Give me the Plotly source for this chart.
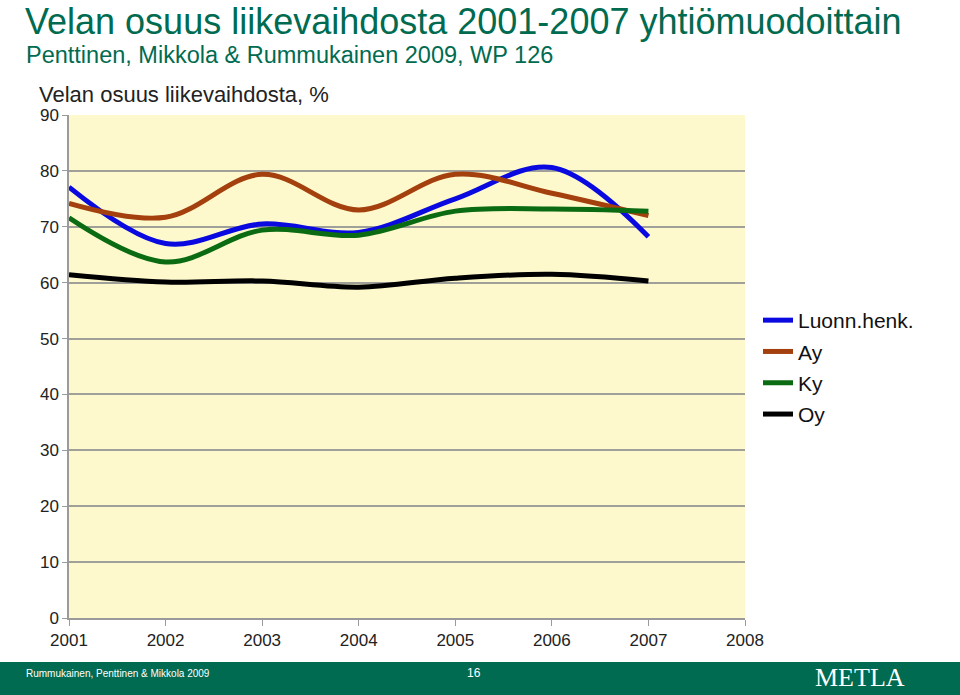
import plotly.graph_objects as go

years = [2001, 2002, 2003, 2004, 2005, 2006, 2007]
luonn = [77.1, 67.0, 70.5, 69.0, 75.0, 80.6, 68.2]
ay = [74.2, 71.7, 79.4, 73.0, 79.4, 76.0, 72.0]
ky = [71.6, 63.7, 69.4, 68.5, 72.8, 73.2, 72.8]
oy = [61.4, 60.1, 60.3, 59.2, 60.8, 61.5, 60.3]
series_names = ["Luonn.henk.", "Ay", "Ky", "Oy"]
colors = ["#0a0ae0", "#a3400e", "#0b6b12", "#000000"]
x_ticks = [2001, 2002, 2003, 2004, 2005, 2006, 2007, 2008]
y_ticks = [0, 10, 20, 30, 40, 50, 60, 70, 80, 90]

W, H = 960, 695
# plot area in screen pixels
L, R, T, B = 69, 745, 115, 618

def px(x):
    return (x - L) / (R - L)

def py(y):
    return (B - y) / (B - T)

fig = go.Figure()
for i, (name, vals, c) in enumerate(zip(series_names, [luonn, ay, ky, oy], colors)):
    fig.add_trace(go.Scatter(x=years, y=vals, name=name, mode="lines", legendgroup=f"g{i}",
                             line=dict(color=c, width=5, shape="spline", smoothing=1.0)))

green = "#006b50"
fig.update_layout(
    width=W, height=H,
    margin=dict(l=L, r=W - R, t=T, b=H - B, pad=0),
    paper_bgcolor="white",
    plot_bgcolor="#fdf9cc",
    font=dict(family="Arial, Liberation Sans, sans-serif", color="#222"),
    showlegend=True,
    legend=dict(x=px(758), y=py(300), xanchor="left", yanchor="top",
                font=dict(size=21, color="#111"), bgcolor="rgba(0,0,0,0)",
                itemwidth=30, tracegroupgap=1),
    xaxis=dict(range=[2001, 2008], tickvals=x_ticks, ticktext=[str(v) for v in x_ticks],
               showgrid=False, zeroline=False, showline=True, linecolor="#9a9a9a", linewidth=1.5,
               ticks="outside", ticklen=6, tickcolor="#9a9a9a",
               tickfont=dict(size=17, color="#222")),
    yaxis=dict(range=[0, 90], tickvals=y_ticks, showgrid=True, gridcolor="#a0a09a", gridwidth=1.5,
               zeroline=False, showline=True, linecolor="#9a9a9a", linewidth=1.5,
               ticks="outside", ticklen=5, tickcolor="#9a9a9a",
               tickfont=dict(size=17, color="#222")),
)

annotations = [
    dict(text="Velan osuus liikevaihdosta 2001-2007 yhtiömuodoittain", x=px(24), y=py(0),
         xanchor="left", yanchor="top", borderpad=0, font=dict(size=36, color=green)),
    dict(text="Penttinen, Mikkola & Rummukainen 2009, WP 126", x=px(25), y=py(55),
         xanchor="left", yanchor="middle", borderpad=0, font=dict(size=23.5, color=green)),
    dict(text="Velan osuus liikevaihdosta, %", x=px(37), y=py(94),
         xanchor="left", yanchor="middle", font=dict(size=22, color="#222")),
    dict(text="Rummukainen, Penttinen & Mikkola 2009", x=px(24), y=py(673),
         xanchor="left", yanchor="middle", font=dict(size=10, color="white")),
    dict(text="16", x=px(474), y=py(673),
         xanchor="center", yanchor="middle", font=dict(size=12, color="white")),
    dict(text="METLA", x=px(860), y=py(677),
         xanchor="center", yanchor="middle",
         font=dict(size=26, color="white", family="Liberation Serif, DejaVu Serif, serif")),
]
for a in annotations:
    a.update(xref="paper", yref="paper", showarrow=False)
fig.update_layout(annotations=annotations)

fig.add_shape(type="rect", xref="paper", yref="paper",
              x0=px(0), x1=px(W), y0=py(662), y1=py(H),
              fillcolor=green, line=dict(width=0), layer="below")

fig.write_html("out.html", config={"displayModeBar": False},
               post_script="document.body.style.margin='0px';document.body.style.overflow='hidden';")
